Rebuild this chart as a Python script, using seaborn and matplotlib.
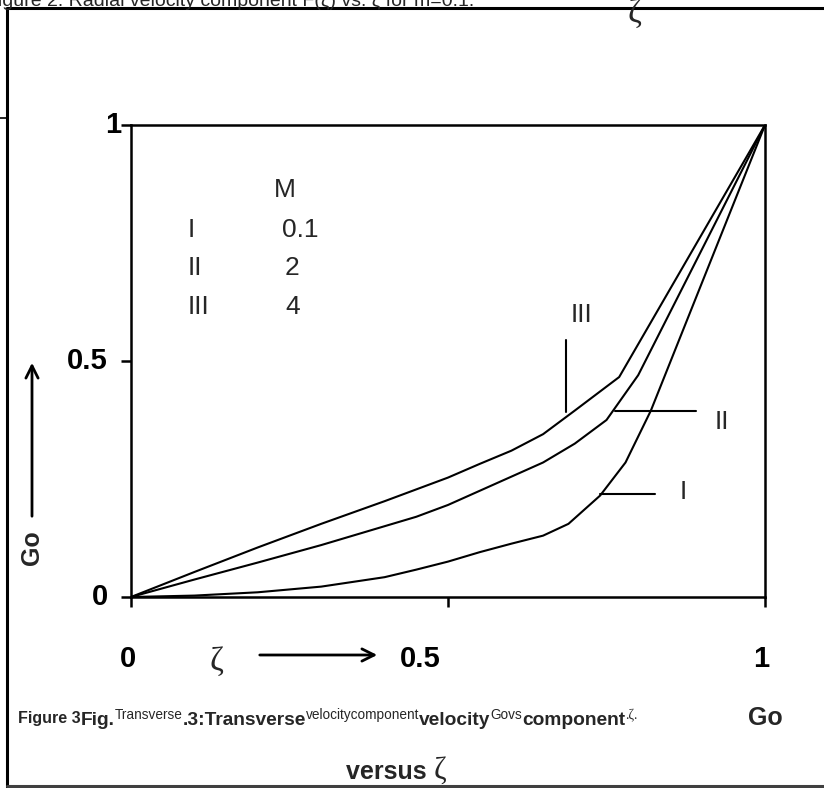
import numpy as np
import pandas as pd
import matplotlib
matplotlib.use("Agg")
import matplotlib.pyplot as plt
import seaborn as sns
from matplotlib.lines import Line2D
from matplotlib.patches import FancyArrowPatch
from matplotlib.transforms import blended_transform_factory

# ---------------- data ----------------
zeta_I = [0, 0.1, 0.2, 0.3, 0.4, 0.45, 0.5, 0.55, 0.6, 0.65, 0.69, 0.74, 0.78, 0.82, 1.0]
G_I    = [0, 0.003, 0.010, 0.022, 0.042, 0.058, 0.075, 0.095, 0.113, 0.130, 0.155, 0.215, 0.285, 0.395, 1.0]

zeta_II = [0, 0.1, 0.2, 0.3, 0.4, 0.45, 0.5, 0.55, 0.6, 0.65, 0.7, 0.75, 0.8, 1.0]
G_II    = [0, 0.037, 0.073, 0.110, 0.150, 0.170, 0.195, 0.225, 0.255, 0.285, 0.325, 0.375, 0.470, 1.0]

zeta_III = [0, 0.1, 0.2, 0.3, 0.4, 0.5, 0.55, 0.6, 0.65, 0.7, 0.77, 1.0]
G_III    = [0, 0.053, 0.105, 0.155, 0.203, 0.253, 0.282, 0.310, 0.345, 0.395, 0.466, 1.0]

curve_names = ["I", "II", "III"]
M_values = ["0.1", "2", "4"]
tick_vals = [0, 0.5, 1]
tick_labels = ["0", "0.5", "1"]

df = pd.concat([
    pd.DataFrame({"zeta": zeta_I, "G": G_I, "curve": "I"}),
    pd.DataFrame({"zeta": zeta_II, "G": G_II, "curve": "II"}),
    pd.DataFrame({"zeta": zeta_III, "G": G_III, "curve": "III"}),
], ignore_index=True)

# ---------------- figure ----------------
sns.set_theme(style="white")
plt.rcParams["font.family"] = ["Liberation Sans", "DejaVu Sans"]
SERIF = ["Liberation Serif", "DejaVu Serif"]

W, H = 824, 788
fig = plt.figure(figsize=(W / 100, H / 100), dpi=100)
fig.patch.set_facecolor("white")

def fx(px):
    return px / W

def fy(py):
    return 1 - py / H

ax = fig.add_axes([fx(131), fy(597), fx(765) - fx(131), fy(125) - fy(597)])
sns.lineplot(data=df, x="zeta", y="G", hue="curve",
             palette={"I": "black", "II": "black", "III": "black"},
             legend=False, ax=ax, linewidth=1.5, errorbar=None)

ax.set_xlim(0, 1)
ax.set_ylim(0, 1)
ax.set_xlabel("")
ax.set_ylabel("")
ax.set_xticks(tick_vals)
ax.set_yticks(tick_vals)
ax.set_xticklabels([])
ax.set_yticklabels([])
ax.tick_params(bottom=True, left=True, direction="out", length=7, width=1.8, color="black")
for s in ax.spines.values():
    s.set_visible(True)
    s.set_color("black")
    s.set_linewidth(1.8)

# y tick labels
ytr = blended_transform_factory(fig.transFigure, ax.transData)
ylab_right = {"0": 108, "0.5": 108, "1": 121}
for v, lab in zip(tick_vals, tick_labels):
    ax.text(fx(ylab_right[lab]), v, lab, transform=ytr, ha="right", va="center",
            fontsize=21, fontweight="bold", color="black")

# x tick labels (placed well below the axis)
xlab_centers = {"0": 128, "0.5": 420, "1": 761}
for v, lab in zip(tick_vals, tick_labels):
    fig.text(fx(xlab_centers[lab]), fy(659), lab, ha="center", va="center",
             fontsize=21, fontweight="bold", color="black")

# legend table inside axes
ax.text(0.243, 0.862, "M", ha="center", va="center", fontsize=19)
leg_y = [0.778, 0.697, 0.614]
for name, m, yy in zip(curve_names, M_values, leg_y):
    ax.text(0.09, yy, name, ha="left", va="center", fontsize=19)
    ax.text(0.243 if m != "0.1" else 0.238, yy, m, ha="left", va="center", fontsize=19)

# curve labels with leader lines
ax.plot([0.686, 0.686], [0.392, 0.544], color="black", lw=1.5)
ax.text(0.711, 0.597, "III", ha="center", va="center", fontsize=19)
ax.plot([0.763, 0.891], [0.394, 0.394], color="black", lw=1.5)
ax.text(0.932, 0.371, "II", ha="center", va="center", fontsize=19)
ax.plot([0.740, 0.826], [0.218, 0.218], color="black", lw=1.5)
ax.text(0.871, 0.222, "I", ha="center", va="center", fontsize=19)

# x axis symbol and arrow
fig.text(fx(216), fy(662), "ζ", ha="center", va="center", fontsize=24, family=SERIF)
fig.add_artist(FancyArrowPatch((fx(257), fy(655)), (fx(380), fy(655)),
                               transform=fig.transFigure, arrowstyle="->",
                               mutation_scale=22, lw=2, color="black"))

# y axis label and arrow
fig.text(fx(32), fy(548), "Go", ha="center", va="center", rotation=90,
         fontsize=18, fontweight="bold")
fig.add_artist(FancyArrowPatch((fx(32), fy(519)), (fx(32), fy(360)),
                               transform=fig.transFigure, arrowstyle="->",
                               mutation_scale=22, lw=2, color="black"))

# caption (mixed sizes), pieces chained left to right
fig.canvas.draw()
renderer = fig.canvas.get_renderer()

def chain(pieces, x0):
    xcur = x0
    for txt, size, weight, base, fam in pieces:
        kw = {"family": fam} if fam else {}
        t = fig.text(fx(xcur), fy(base), txt, ha="left", va="baseline",
                     fontsize=size, fontweight=weight, **kw)
        xcur += t.get_window_extent(renderer).width
    return xcur

B, S = 13.8, 9.8
chain([
    ("Figure 3", 11.5, "bold", 723, None),
    ("Fig.", B, "bold", 725, None),
    ("Transverse", S, "normal", 719, None),
    (".3:Transverse", B, "bold", 725, None),
    ("velocitycomponent", S, "normal", 719, None),
    ("velocity", B, "bold", 725, None),
    ("Govs", S, "normal", 719, None),
    ("component", B, "bold", 725, None),
    (".ζ.", S, "normal", 719, SERIF),
], 18)

fig.text(fx(765), fy(718), "Go", ha="center", va="center", fontsize=18, fontweight="bold")
chain([
    ("versus ", 18, "bold", 779, None),
    ("ζ", 22, "normal", 779, SERIF),
], 346)

# header remnants from the page above
fig.text(fx(-14), fy(6), "Figure 2. Radial velocity component F(ζ) vs. ζ for m=0.1.",
         ha="left", va="baseline", fontsize=14)
fig.text(fx(634), fy(14), "ζ", ha="center", va="center", fontsize=24, family=SERIF)

# page frame lines
def fline(x0, y0, x1, y1, lw=2.2, color="black"):
    fig.add_artist(Line2D([fx(x0), fx(x1)], [fy(y0), fy(y1)], transform=fig.transFigure,
                          color=color, lw=lw))

fline(7, 8, 7, 788)
fline(7, 8, 824, 8)
fline(7, 786, 824, 786, color="#404040")
fline(0, 118, 7, 118, lw=1.2)

fig.savefig("out.png", dpi=100, facecolor="white")
